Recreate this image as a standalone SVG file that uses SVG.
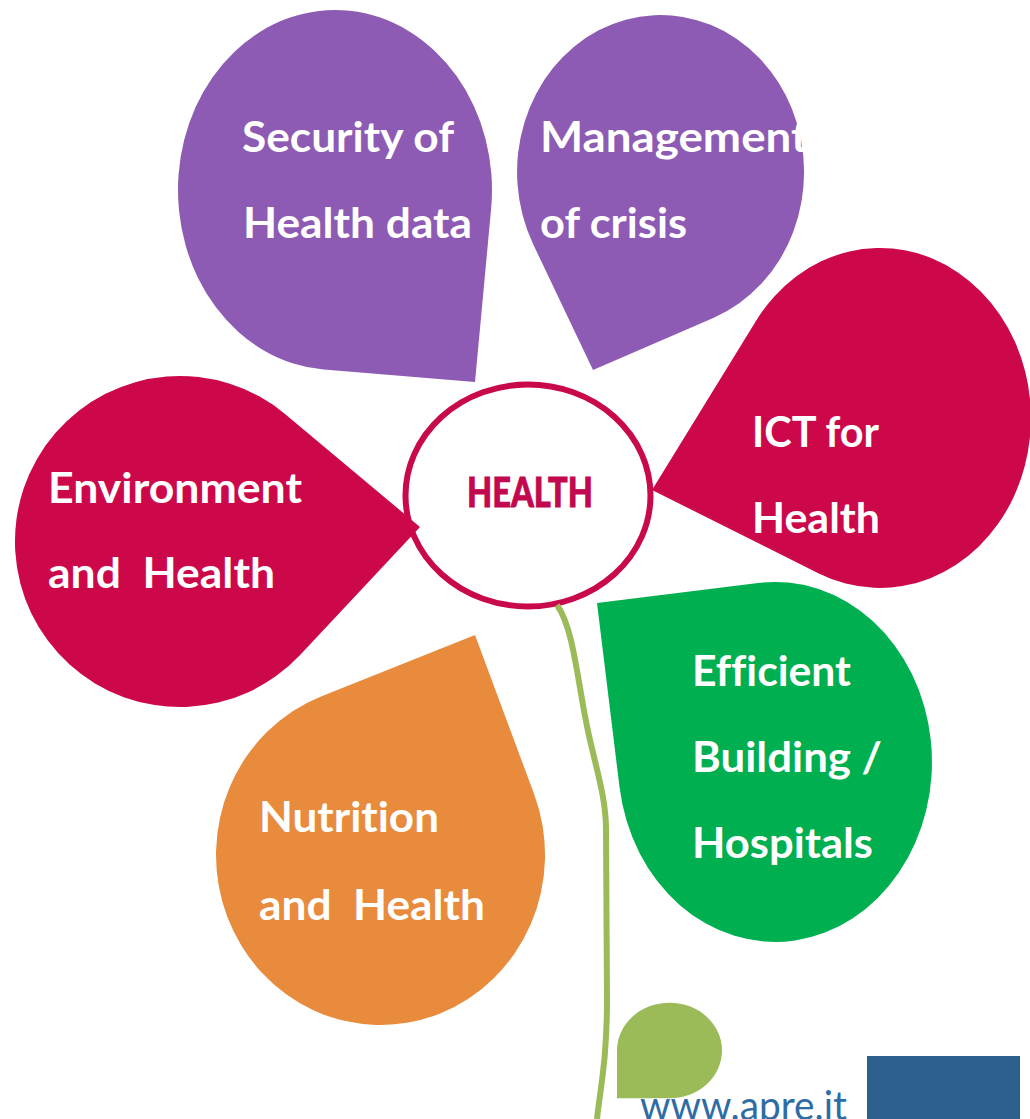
<svg xmlns="http://www.w3.org/2000/svg" width="1030" height="1119" viewBox="0 0 1030 1119">
<style>
.purple{fill:#8D5BB3}
.crimson{fill:#CC084B}
.orange{fill:#E98B3C}
.green{fill:#00AF50}
text{font-variant-ligatures:none;font-feature-settings:"liga" 0,"clig" 0,"dlig" 0}
.lbl{font-family:Lato,"Open Sans","Liberation Sans",sans-serif;font-weight:bold;font-size:42px;fill:#ffffff}
.center{font-family:Lato,"Open Sans","Liberation Sans",sans-serif;font-weight:900;font-size:41px;fill:#C2084E;stroke:#C2084E;stroke-width:0.8}
.url{font-family:Lato,"Open Sans","Liberation Sans",sans-serif;font-size:40px;fill:#2E6DA4}
</style>
<rect width="1030" height="1119" fill="#ffffff"/>

<g id="health">
<ellipse cx="528" cy="495.5" rx="122.5" ry="111" fill="#ffffff" stroke="#C80A4C" stroke-width="6"/>
<text class="center" x="467" y="507" textLength="126" lengthAdjust="spacingAndGlyphs">HEALTH</text>
</g>

<g id="connectors">
<path d="M557,605 C575,630 578,690 590,740 C598,775 606,800 606,830 L607,1000 C607,1060 600,1090 597,1119" fill="none" stroke="#9BBB59" stroke-width="6"/>
</g>

<g id="security">
<path class="purple" d="M491.1,209.1 A157,180 0 1,0 323.8,369.5 L475,382 Z"/>
<text class="lbl" x="242" y="152" textLength="212" lengthAdjust="spacingAndGlyphs">Security of</text>
<text class="lbl" x="243" y="238" textLength="229" lengthAdjust="spacingAndGlyphs">Health data</text>
</g>

<g id="management">
<path class="purple" d="M713.3,318 A143.5,157 0 1,0 533.4,244.7 L593,370 Z"/>
<text class="lbl" x="540" y="152" textLength="268" lengthAdjust="spacingAndGlyphs">Management</text>
<text class="lbl" x="540" y="238" textLength="147" lengthAdjust="spacingAndGlyphs">of crisis</text>
</g>

<g id="ict">
<path class="crimson" d="M818.8,573.4 A151,170 0 1,0 755.8,321.2 L652,490 Z"/>
<text class="lbl" x="752" y="447" textLength="127" lengthAdjust="spacingAndGlyphs">ICT for</text>
<text class="lbl" x="752" y="533" textLength="128" lengthAdjust="spacingAndGlyphs">Health</text>
</g>

<g id="environment">
<path class="crimson" d="M285.6,414.4 A165,165.5 0 1,0 300.1,655 L420,527 Z"/>
<text class="lbl" x="48" y="503" textLength="254" lengthAdjust="spacingAndGlyphs">Environment</text>
<text class="lbl" x="48" y="588" textLength="227" lengthAdjust="spacingAndGlyphs" xml:space="preserve">and  Health</text>
</g>

<g id="efficient">
<path class="green" d="M758,583 A157,180 0 1,1 619.5,787 L597,603 Z"/>
<text class="lbl" x="692" y="686" textLength="159" lengthAdjust="spacingAndGlyphs">Efficient</text>
<text class="lbl" x="692" y="772" textLength="190" lengthAdjust="spacingAndGlyphs">Building /</text>
<text class="lbl" x="692" y="858" textLength="181" lengthAdjust="spacingAndGlyphs">Hospitals</text>
</g>

<g id="nutrition">
<path class="orange" d="M534.1,794.1 A164.5,170 0 1,1 321,696.5 L475,635 Z"/>
<text class="lbl" x="259" y="832" textLength="180" lengthAdjust="spacingAndGlyphs">Nutrition</text>
<text class="lbl" x="259" y="920" textLength="226" lengthAdjust="spacingAndGlyphs" xml:space="preserve">and  Health</text>
</g>

<g id="footer">
<text class="url" x="640" y="1120" textLength="207" lengthAdjust="spacingAndGlyphs">www.apre.it</text>
<rect x="867" y="1056" width="153" height="63" fill="#2C5F8E"/>
</g>

<g id="leaf">
<path fill="#9BBB59" d="M617,1050.5 A52.5,47.8 0 1,1 669.3,1098.3 L617,1098.3 Z"/>
</g>
</svg>
